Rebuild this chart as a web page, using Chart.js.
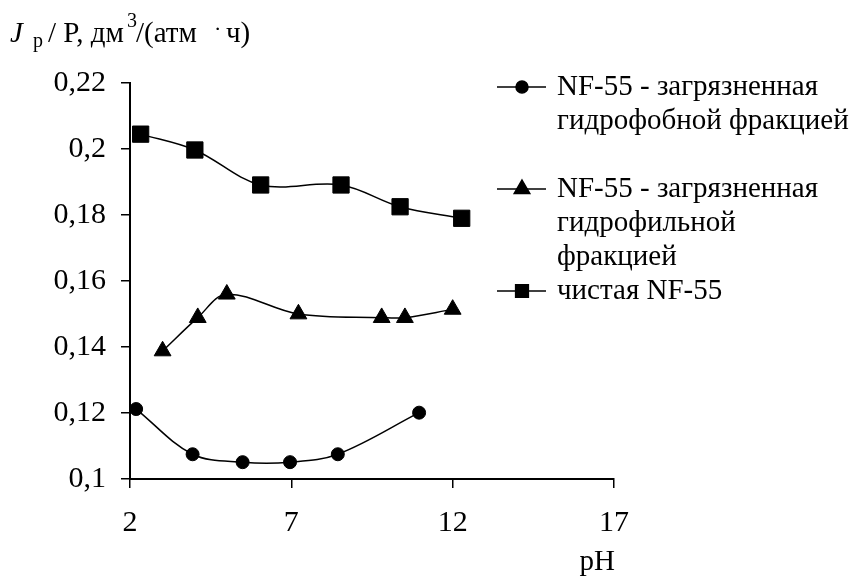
<!DOCTYPE html>
<html>
<head>
<meta charset="utf-8">
<script src="https://cdn.jsdelivr.net/npm/chart.js@4.4.0/dist/chart.umd.min.js"></script>
<style>
  html, body { margin: 0; padding: 0; background: #fff; }
  #wrap { width: 851px; height: 576px; }
</style>
</head>
<body>
<div id="wrap"><canvas id="chart" width="851" height="576"></canvas></div>
<script>
// pH / flux pairs for each membrane
const phHydrophobic = [2.19, 3.94, 5.49, 6.96, 8.44, 10.96];
const fluxHydrophobic = [0.1212, 0.1075, 0.1051, 0.1051, 0.1075, 0.1201];

const phHydrophilic = [3.01, 4.1, 5.0, 7.22, 9.8, 10.52, 12.0];
const fluxHydrophilic = [0.1388, 0.1489, 0.156, 0.15, 0.1489, 0.1489, 0.1514];

const phClean = [2.33, 4.01, 6.05, 8.54, 10.37, 12.28];
const fluxClean = [0.2045, 0.1997, 0.1891, 0.1891, 0.1825, 0.179];

const xTicks = [2, 7, 12, 17];
const yTicks = [0.1, 0.12, 0.14, 0.16, 0.18, 0.2, 0.22];

const legendText = [
  ["NF-55 - загрязненная", "гидрофобной фракцией"],
  ["NF-55 - загрязненная", "гидрофильной", "фракцией"],
  ["чистая NF-55"]
];
const xTitle = "pH";

const FONT = "'Liberation Serif', 'Times New Roman', serif";
const legendRadius = [6, 9, 9];

function pairs(xs, ys) {
  return xs.map((x, i) => ({ x: x, y: ys[i] }));
}

// axis title, pH label and the excel-like legend
const extras = {
  id: 'extras',
  afterDraw(chart) {
    const ctx = chart.ctx;
    const area = chart.chartArea;
    ctx.save();
    ctx.fillStyle = '#000';
    ctx.strokeStyle = '#000';
    ctx.textBaseline = 'alphabetic';
    ctx.textAlign = 'left';

    // y title, pieces placed like the word-processor original
    const parts = [
      { t: 'J', f: 'italic 29px ' + FONT, x: 10, dy: 0 },
      { t: 'p', f: '20px ' + FONT, x: 33, dy: 5 },
      { t: '/ P, дм', f: '29px ' + FONT, x: 48, dy: 0 },
      { t: '3', f: '20px ' + FONT, x: 127, dy: -15 },
      { t: '/(атм', f: '29px ' + FONT, x: 136, dy: 0 },
      { t: '·', f: '22px ' + FONT, x: 214, dy: -6 },
      { t: 'ч)', f: '29px ' + FONT, x: 226, dy: 0 }
    ];
    parts.forEach(p => {
      ctx.font = p.f;
      ctx.fillText(p.t, p.x, 42 + p.dy);
    });

    ctx.font = '29px ' + FONT;
    ctx.textAlign = 'right';
    ctx.fillText(xTitle, area.right + 1, 570);

    ctx.textAlign = 'left';
    chart.data.datasets.forEach((ds, i) => {
      const base = 95 + i * 102;
      const my = base - 8;
      ctx.lineWidth = 1.5;
      ctx.beginPath();
      ctx.moveTo(497, my);
      ctx.lineTo(546, my);
      ctx.stroke();
      Chart.helpers.drawPoint(ctx, { pointStyle: ds.pointStyle, radius: legendRadius[i], borderWidth: 1, rotation: 0 }, 522, my);
      ctx.font = '29px ' + FONT;
      legendText[i].forEach((line, j) => {
        ctx.fillText(line, 557, base + j * 34);
      });
    });
    ctx.restore();
  }
};

const axisGrid = {
  display: true,
  drawOnChartArea: false,
  drawTicks: true,
  tickLength: 9,
  color: '#000',
  lineWidth: 1.5
};

function series(label, xs, ys, style, radius) {
  return {
    label: label,
    data: pairs(xs, ys),
    pointStyle: style,
    pointRadius: radius,
    pointHoverRadius: radius,
    borderColor: '#000',
    backgroundColor: '#000',
    borderWidth: 1.5,
    tension: 0.35,
    fill: false,
    clip: false,
    pointBackgroundColor: '#000',
    pointBorderColor: '#000',
    pointBorderWidth: 1
  };
}

new Chart(document.getElementById('chart'), {
  type: 'line',
  data: {
    datasets: [
      series(legendText[0].join(' '), phHydrophobic, fluxHydrophobic, 'circle', 6.5),
      series(legendText[1].join(' '), phHydrophilic, fluxHydrophilic, 'triangle', 9.7),
      series(legendText[2].join(' '), phClean, fluxClean, 'rect', 11.5)
    ]
  },
  options: {
    responsive: false,
    animation: false,
    layout: { padding: { left: 0, top: 83, right: 237, bottom: 0 } },
    plugins: {
      colors: { enabled: false },
      legend: { display: false },
      tooltip: { enabled: false }
    },
    scales: {
      x: {
        type: 'linear',
        min: 2,
        max: 17,
        afterBuildTicks: a => { a.ticks = xTicks.map(v => ({ value: v })); },
        afterFit: a => { a.height = 97; },
        grid: axisGrid,
        border: { color: '#000', width: 2 },
        ticks: { color: '#000', font: { family: FONT, size: 30 }, padding: 17, maxRotation: 0 }
      },
      y: {
        min: 0.1,
        max: 0.22,
        afterBuildTicks: a => { a.ticks = yTicks.map(v => ({ value: v })); },
        afterFit: a => { a.width = 130; },
        grid: axisGrid,
        border: { color: '#000', width: 2 },
        ticks: {
          color: '#000',
          font: { family: FONT, size: 30 },
          padding: 15,
          callback: v => parseFloat(v.toFixed(2)).toString().replace('.', ',')
        }
      }
    }
  },
  plugins: [extras]
});
</script>
</body>
</html>
